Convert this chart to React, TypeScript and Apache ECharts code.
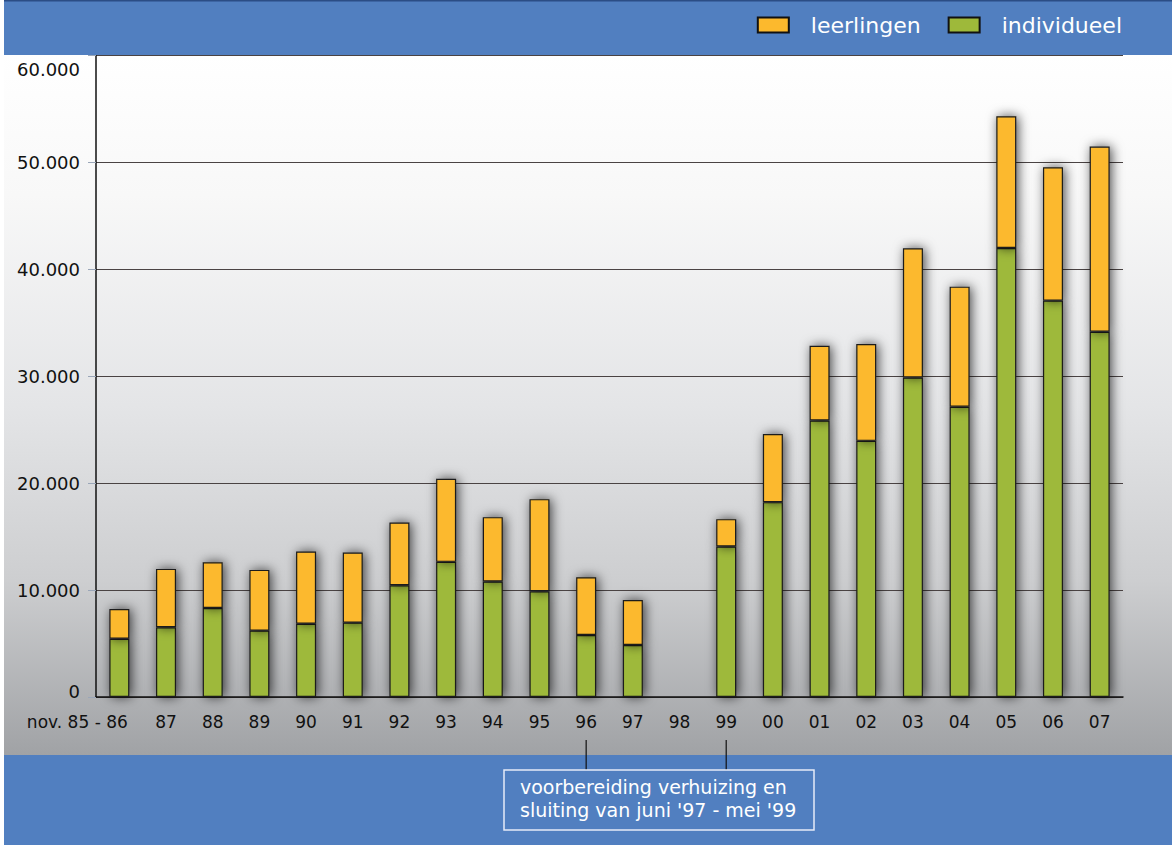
import React, { useEffect, useRef } from "react";
import * as echarts from "echarts";

const categories = ["nov. 85 - 86", "87", "88", "89", "90", "91", "92", "93", "94", "95", "96", "97", "98", "99", "00", "01", "02", "03", "04", "05", "06", "07"];
const individueel = [5450, 6520, 8320, 6200, 6850, 6950, 10450, 12630, 10790, 9880, 5800, 4860, null, 14060, 18210, 25840, 23940, 29860, 27120, 41960, 37040, 34140];
const leerlingen = [2780, 5450, 4280, 5680, 6740, 6550, 5850, 7760, 6020, 8610, 5390, 4210, null, 2560, 6360, 6990, 9050, 12070, 11230, 12320, 12470, 17300];
const yTicks = [0, 10000, 20000, 30000, 40000, 50000, 60000];
const seriesNames = ["leerlingen", "individueel"];
const noteLines = ["voorbereiding verhuizing en", "sluiting van juni '97 - mei '99"];
const noteFrom = "96";
const noteTo = "99";

const FONT = "DejaVu Sans";
const ORANGE = "#FCB92D";
const GREEN = "#9EB93A";
const BLUE = "#517FC0";

function fmtY(v: number) {
  if (v === 0) return "{min|0}";
  const s = String(v / 1000) + ".000";
  if (v === yTicks[yTicks.length - 1]) return "{max|" + s + "}";
  return s;
}

function fmtX(v: string, i: number) {
  return i === 0 ? "{first|" + v + "}" : v;
}

export default function App() {
  const ref = useRef<HTMLDivElement>(null);
  useEffect(() => {
    if (!ref.current) return;
    const chart = echarts.init(ref.current, undefined, { renderer: "svg" });
    const barStyle = (color: string) => ({
      color,
      borderColor: "#1a1a1a",
      borderWidth: 1.2,
      shadowBlur: 12,
      shadowColor: "rgba(0,0,0,0.7)",
      shadowOffsetX: 2,
      shadowOffsetY: 0,
    });
    chart.setOption({
      animation: false,
      textStyle: { fontFamily: FONT },
      grid: { left: 96, right: 49, top: 55, bottom: 148, containLabel: false },
      legend: {
        data: seriesNames,
        right: 50,
        top: 14,
        padding: 0,
        itemWidth: 31,
        itemHeight: 15,
        itemGap: 27,
        icon: "rect",
        itemStyle: { borderColor: "#111", borderWidth: 2, shadowBlur: 0, shadowOffsetX: 0 },
        textStyle: { color: "#ffffff", fontSize: 22, fontFamily: FONT, padding: [0, 0, 0, 17] },
        z: 120,
      },
      xAxis: {
        type: "category",
        data: categories,
        boundaryGap: true,
        axisLine: { lineStyle: { color: "#111", width: 1.5 } },
        axisTick: { alignWithLabel: true, length: 7, lineStyle: { color: "#111" } },
        axisLabel: {
          color: "#111",
          fontSize: 17,
          fontFamily: FONT,
          margin: 16,
          interval: 0,
          formatter: fmtX,
          rich: {
            first: { fontSize: 17, fontFamily: FONT, color: "#111", padding: [0, 84, 0, 0] },
          },
        },
      },
      yAxis: {
        type: "value",
        min: 0,
        max: 60000,
        interval: 10000,
        axisLine: { show: true, lineStyle: { color: "#111", width: 1.5 } },
        axisTick: { show: true, length: 8, lineStyle: { color: "#9aa6b8" } },
        splitLine: { show: true, lineStyle: { color: "#4a4343", width: 1 } },
        axisLabel: {
          color: "#111",
          fontSize: 18,
          fontFamily: FONT,
          margin: 16,
          formatter: fmtY,
          rich: {
            max: { fontSize: 18, fontFamily: FONT, color: "#111", padding: [29, 0, 0, 0] },
            min: { fontSize: 18, fontFamily: FONT, color: "#111", padding: [0, 0, 12, 0] },
          },
        },
      },
      series: [
        {
          name: "individueel",
          type: "bar",
          stack: "total",
          barWidth: 20,
          data: individueel,
          itemStyle: barStyle(GREEN),
        },
        {
          name: "leerlingen",
          type: "bar",
          stack: "total",
          barWidth: 20,
          data: leerlingen,
          itemStyle: barStyle(ORANGE),
        },
      ],
    });

    const x1 = chart.convertToPixel({ xAxisIndex: 0 }, noteFrom) as number;
    const x2 = chart.convertToPixel({ xAxisIndex: 0 }, noteTo) as number;

    chart.setOption({
      graphic: [
        {
          type: "rect",
          z: -10,
          silent: true,
          shape: { x: 4, y: 55, width: 1168, height: 701 },
          style: {
            fill: new echarts.graphic.LinearGradient(0, 0, 0, 1, [
              { offset: 0, color: "#ffffff" },
              { offset: 0.2, color: "#f8f8f8" },
              { offset: 0.5, color: "#e4e5e7" },
              { offset: 0.75, color: "#cdced0" },
              { offset: 1, color: "#a0a2a5" },
            ]),
          },
        },
        {
          type: "rect",
          z: 100,
          silent: true,
          shape: { x: 4, y: 0, width: 1168, height: 55 },
          style: { fill: BLUE },
        },
        {
          type: "rect",
          z: 101,
          silent: true,
          shape: { x: 4, y: 0, width: 1168, height: 1.5 },
          style: { fill: "#2b4d85" },
        },
        {
          type: "rect",
          z: 100,
          silent: true,
          shape: { x: 4, y: 755, width: 1168, height: 90 },
          style: { fill: BLUE },
        },
        {
          type: "line",
          z: 101,
          silent: true,
          shape: { x1: x1, y1: 740, x2: x1, y2: 770 },
          style: { stroke: "#111", lineWidth: 1.2 },
        },
        {
          type: "line",
          z: 101,
          silent: true,
          shape: { x1: x2, y1: 740, x2: x2, y2: 770 },
          style: { stroke: "#111", lineWidth: 1.2 },
        },
        {
          type: "rect",
          z: 102,
          silent: true,
          shape: { x: 504, y: 770, width: 310, height: 60 },
          style: { fill: "none", stroke: "#e6ecf7", lineWidth: 1.5 },
        },
        {
          type: "text",
          z: 103,
          silent: true,
          x: 520,
          y: 775,
          style: {
            text: noteLines.join("\n"),
            fill: "#ffffff",
            fontSize: 19,
            fontFamily: FONT,
            lineHeight: 23,
          },
        },
      ],
    });

    return () => chart.dispose();
  }, []);
  return <div ref={ref} style={{ position: "absolute", left: 0, top: 0, width: 1172, height: 845 }} />;
}
